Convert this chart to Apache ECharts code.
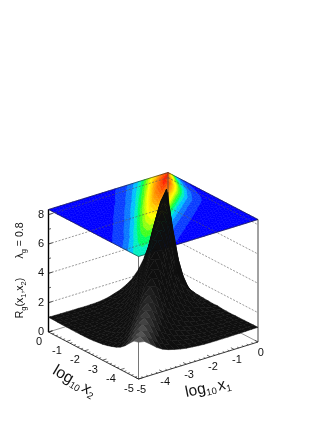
<!DOCTYPE html>
<html>
<head>
<meta charset="utf-8">
<style>html,body{margin:0;padding:0;background:#fff}#c{width:327px;height:423px}</style>
<script src="https://cdn.jsdelivr.net/npm/echarts@6/dist/echarts.min.js"></script>
</head>
<body>
<div id="c"></div>
<script>
// Axis values
const logX = [-5,-4.75,-4.5,-4.25,-4,-3.75,-3.5,-3.25,-3,-2.75,-2.5,-2.25,-2,-1.75,-1.5,-1.25,-1,-0.75,-0.5,-0.25,0];
const zTop = 8.35;
const xTicks = [0,-1,-2,-3,-4,-5];
const xTickLabels = ['0','-1','-2','-3','-4','-5'];
const zTicks = [0,2,4,6,8];
const zTickLabels = ['0','2','4','6','8'];
const xMinorTicks = [-0.2,-0.4,-0.6,-0.8,-1.2,-1.4,-1.6,-1.8,-2.2,-2.4,-2.6,-2.8,-3.2,-3.4,-3.6,-3.8,-4.2,-4.4,-4.6,-4.8];
const zMinorTicks = [1,3,5,7];
// R_g: one row per offset |x1-x2| (0, 0.25, 0.5 ...), running from low log x to high log x
const offset0  = [2.5,2.6,2.7,2.85,3.0,3.2,3.45,3.7,4.0,4.3,4.6,5.0,5.35,5.75,6.15,6.5,6.9,7.2,7.5,7.5,7.0];
const offset1  = [2.43,2.52,2.63,2.77,2.93,3.14,3.37,3.62,3.90,4.17,4.50,4.84,5.19,5.55,5.90,6.24,6.50,6.70,6.75,6.50];
const offset2  = [2.12,2.19,2.30,2.40,2.54,2.72,2.89,3.10,3.31,3.52,3.80,4.05,4.33,4.61,4.85,5.13,5.34,5.40,5.15];
const offset3  = [1.78,1.83,1.90,1.99,2.09,2.21,2.34,2.48,2.62,2.79,2.96,3.14,3.33,3.50,3.68,3.84,3.95,4.00];
const offset4  = [1.53,1.57,1.62,1.68,1.76,1.84,1.93,2.02,2.12,2.24,2.35,2.47,2.60,2.71,2.83,2.92,3.02];
const offset5  = [1.37,1.40,1.44,1.49,1.54,1.60,1.66,1.72,1.80,1.88,1.96,2.04,2.12,2.20,2.27,2.33];
const offset6  = [1.26,1.28,1.31,1.34,1.38,1.42,1.46,1.50,1.56,1.61,1.67,1.72,1.77,1.83,1.87];
const offset7  = [1.16,1.18,1.20,1.23,1.26,1.29,1.32,1.35,1.39,1.43,1.47,1.50,1.54,1.58];
const offset8  = [1.09,1.10,1.12,1.14,1.16,1.18,1.20,1.23,1.25,1.28,1.31,1.34,1.36];
const offset9  = [1.05,1.06,1.07,1.08,1.10,1.11,1.13,1.15,1.17,1.19,1.21,1.23];
const offset10 = [1.01,1.01,1.02,1.03,1.04,1.05,1.06,1.07,1.08,1.09,1.10];
const offset11 = [0.98,0.99,0.99,1.00,1.00,1.01,1.02,1.02,1.03,1.03];
const offset12 = [0.97,0.97,0.97,0.98,0.98,0.98,0.99,0.99,0.99];
const offset13 = [0.97,0.97,0.97,0.97,0.97,0.97,0.98,0.98];
const offset14 = [0.97,0.97,0.97,0.97,0.97,0.97,0.97];
const offset15 = [0.97,0.97,0.97,0.97,0.97,0.98];
const offset16 = [0.98,0.98,0.98,0.98,0.98];
const offset17 = [0.98,0.98,0.98,0.99];
const offset18 = [0.99,0.99,0.99];
const offset19 = [1,1];
const offset20 = [1];
const offsets = [offset0,offset1,offset2,offset3,offset4,offset5,offset6,offset7,offset8,offset9,offset10,offset11,offset12,offset13,offset14,offset15,offset16,offset17,offset18,offset19,offset20];
// Columns close to log x1 = 0 (right of the ridge, where the surface falls off faster), by offset
const x1At0    = [null,3.5,1.8,1.4,1.2,1.15,1.10,1.07,1.05,1.03,1.01];
const x1At025  = [null,5.6,3.5,2.4,1.8,1.5,1.35,1.25,1.18,1.12,1.06];
const x1At05   = [null,6.6,4.9,3.4,2.5,1.9,1.6,1.4,1.28,1.18,1.09];
// Colour bands on the top plane
const bandStart = 0.9, bandStep = 0.37;
const bandColors = ['#0000ff','#0a3cff','#0a78ff','#00c0ff','#00f0c0','#00ff60','#40ff20','#90ff10','#d0ff00','#ffff00','#ffe800','#ffd000','#ffb000','#ff9800','#ff8000','#ff6800','#ff4800','#ff2000','#ff0000'];

const edgeRows = {20:x1At0,19:x1At025,18:x1At05};
function zAt(a,b){
  const k=Math.abs(a-b);
  if(a>b && edgeRows[a] && edgeRows[a][k]!=null) return edgeRows[a][k];
  return offsets[k][Math.min(a,b)];
}

// View: linear projection of (x1, x2, z) onto the plot plane
const view = {ox:168, oy:295, x1x:23.9, x1y:-7.4, x2x:-18, x2y:-9.4, zy:-14.67};
function proj(x1,x2,z){ return [view.ox+view.x1x*x1+view.x2x*x2, view.oy+view.x1y*x1+view.x2y*x2+view.zy*z]; }

function clipBand(tri,lo,hi){
  function clip(poly,limit,keepAbove){
    const out=[];
    for(let i=0;i<poly.length;i++){
      const p=poly[i], q=poly[(i+1)%poly.length];
      const pi=keepAbove? p[2]>=limit : p[2]<=limit;
      const qi=keepAbove? q[2]>=limit : q[2]<=limit;
      if(pi) out.push(p);
      if(pi!==qi){
        const f=(limit-p[2])/(q[2]-p[2]);
        out.push([p[0]+f*(q[0]-p[0]),p[1]+f*(q[1]-p[1]),limit]);
      }
    }
    return out;
  }
  let poly=clip(tri,lo,true);
  if(poly.length) poly=clip(poly,hi,false);
  return poly;
}

const n = logX.length;
const cells = [];
for(let i=n-2;i>=0;i--) for(let j=n-2;j>=0;j--) cells.push([i,j]);

function planeItem(params,api){
  const i=api.value(0), j=api.value(1);
  const c=(a,b)=>[logX[a],logX[b],zAt(a,b)];
  const tris=[[c(i,j),c(i+1,j),c(i+1,j+1)],[c(i,j),c(i+1,j+1),c(i,j+1)]];
  const children=[];
  tris.forEach(tri=>{
    bandColors.forEach((col,k)=>{
      const lo=k===0?-1:bandStart+k*bandStep;
      const hi=k===bandColors.length-1?99:bandStart+(k+1)*bandStep;
      const poly=clipBand(tri,lo,hi);
      if(poly.length>2){
        children.push({type:'polygon',shape:{points:poly.map(p=>api.coord(proj(p[0],p[1],zTop)))},
          style:{fill:col,stroke:col,lineWidth:0.5}});
      }
    });
  });
  return {type:'group',children};
}

function surfaceItem(params,api){
  const i=api.value(0), j=api.value(1);
  const pts=[[i,j],[i+1,j],[i+1,j+1],[i,j+1]].map(p=>api.coord(proj(logX[p[0]],logX[p[1]],zAt(p[0],p[1]))));
  // dense mesh lines read as black; they only open up on the low, front face of the ridge
  const t=(logX[i]+logX[j])/2+0.25, d=Math.abs(logX[i]-logX[j]);
  const w=Math.max(0,1-d/0.8)*Math.max(0,Math.min(1,-(t+2.6)/2.2));
  const g=Math.round(15+80*w);
  const col='rgb('+g+','+g+','+g+')';
  return {type:'polygon',shape:{points:pts},style:{fill:col,stroke:col,lineWidth:0.5}};
}

function lineItem(api,a,b,stroke,width,dash){
  return {type:'line',shape:{x1:a[0],y1:a[1],x2:b[0],y2:b[1]},
    style:{stroke:stroke,lineWidth:width,lineDash:dash||null}};
}

// Back walls and floor
const wallData=[0];
function wallItem(params,api){
  const P=(a,b,c)=>api.coord(proj(a,b,c));
  const kids=[];
  zTicks.filter(v=>v>0).forEach(v=>{
    kids.push(lineItem(api,P(-5,0,v),P(0,0,v),'#555',0.6,[2,1.5]));
    kids.push(lineItem(api,P(0,0,v),P(0,-5,v),'#555',0.6,[2,1.5]));
  });
  kids.push(lineItem(api,P(-5,0,0),P(0,0,0),'#666',0.7));
  kids.push(lineItem(api,P(0,0,0),P(0,-5,0),'#666',0.7));
  kids.push(lineItem(api,P(0,0,0),P(0,0,zTop),'#444',0.7));
  kids.push(lineItem(api,P(0,-5,0),P(0,-5,zTop),'#444',1));
  kids.push(lineItem(api,P(-5,-5,0),P(-5,-5,zTop),'#666',0.9));
  // outline of the top plane
  [[[-5,0],[0,0]],[[0,0],[0,-5]],[[0,-5],[-5,-5]],[[-5,-5],[-5,0]]].forEach(e=>{
    kids.push(lineItem(api,P(e[0][0],e[0][1],zTop),P(e[1][0],e[1][1],zTop),'#222',0.6));
  });
  return {type:'group',children:kids};
}

// Front axes, ticks and text
function axisItem(params,api){
  const P=(a,b,c)=>api.coord(proj(a,b,c));
  const kids=[];
  kids.push(lineItem(api,P(-5,0,0),P(-5,-5,0),'#222',0.9));
  kids.push(lineItem(api,P(-5,-5,0),P(0,-5,0),'#222',0.9));
  kids.push(lineItem(api,P(-5,0,0),P(-5,0,zTop),'#000',1.4));
  const tick=(from,dx,dy,w)=>kids.push(lineItem(api,from,[from[0]+dx,from[1]+dy],'#222',w));
  xTicks.forEach(v=>{ tick(P(-5,v,0),4,-1.2,0.7); tick(P(v,-5,0),-3.2,-1.7,0.7); });
  xMinorTicks.forEach(v=>{ tick(P(-5,v,0),2.2,-0.7,0.6); tick(P(v,-5,0),-1.8,-0.9,0.6); });
  zTicks.forEach(v=>tick(P(-5,0,v),4,-1.2,0.8));
  zMinorTicks.forEach(v=>tick(P(-5,0,v),2.5,-0.7,0.7));
  const txt=(s,x,y,size,rot,rich)=>kids.push({type:'text',x:x,y:y,rotation:rot||0,
    style:{text:s,x:0,y:0,align:'center',verticalAlign:'middle',fill:'#111',
      fontFamily:'"Liberation Sans",Arial,sans-serif',fontSize:size,rich:rich}});
  xTicks.forEach((v,k)=>{
    const a=P(-5,v,0); txt(xTickLabels[k],a[0]-9.5,a[1]+9.5,11);
    const b=P(v,-5,0); txt(xTickLabels[k],b[0]+2.8,b[1]+10.6,11);
  });
  zTicks.forEach((v,k)=>{ const a=P(-5,0,v); txt(zTickLabels[k],a[0]-7.5,a[1],11); });
  const fam='"Liberation Sans",Arial,sans-serif';
  const richSmall={sub:{fontSize:7.5,fontFamily:fam,fill:'#111',padding:[6,0,0,0]}};
  const richBig={sub:{fontSize:9.5,fontFamily:fam,fill:'#111',padding:[9,2,0,0]}};
  txt('R{sub|g}(x{sub|1},x{sub|2})',20.5,298,10.5,Math.PI/2,richSmall);
  txt('λ{sub|g} = 0.8',20.5,240.5,10.5,Math.PI/2,richSmall);
  txt('log{sub|10}x{sub|2}',75,382,16,-0.54,richBig);
  txt('log{sub|10}x{sub|1}',209,388,15.5,0.2,richBig);
  return {type:'group',children:kids};
}

const chart=echarts.init(document.getElementById('c'),null,{renderer:'canvas'});
const customBase={type:'custom',coordinateSystem:'cartesian2d',clip:false,silent:true,animation:false,progressive:0};
chart.setOption({
  animation:false,
  backgroundColor:'#fff',
  grid:{left:0,right:0,top:0,bottom:0},
  xAxis:{type:'value',min:0,max:327,show:false},
  yAxis:{type:'value',min:0,max:423,inverse:true,show:false},
  tooltip:{show:false},
  series:[
    Object.assign({},customBase,{name:'top plane',data:cells,renderItem:planeItem,encode:{x:0,y:1},z:1}),
    Object.assign({},customBase,{name:'walls',data:wallData,renderItem:wallItem,z:2}),
    Object.assign({},customBase,{name:'axes',data:wallData,renderItem:axisItem,z:3}),
    Object.assign({},customBase,{name:'surface',data:cells,renderItem:surfaceItem,encode:{x:0,y:1},z:4})
  ]
});
</script>
</body>
</html>
